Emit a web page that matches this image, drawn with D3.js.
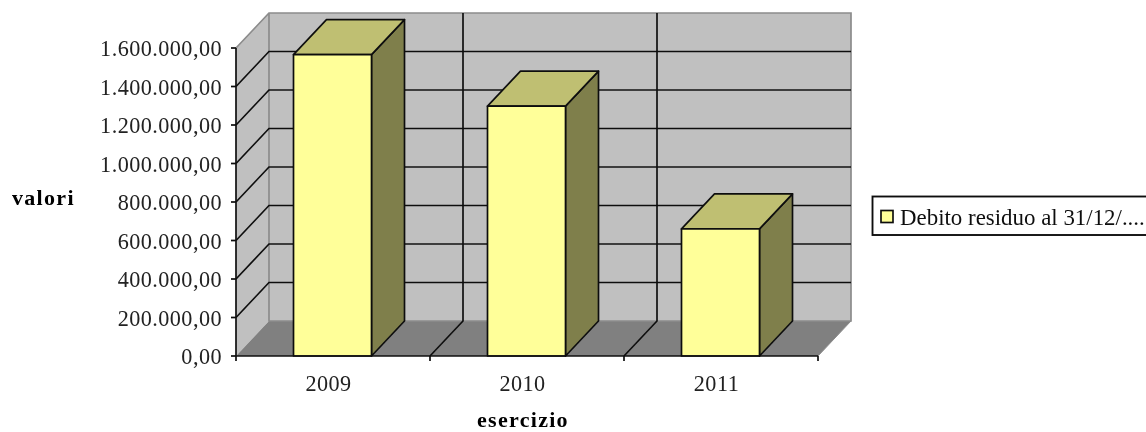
<!DOCTYPE html>
<html>
<head>
<meta charset="utf-8">
<script src="https://cdn.jsdelivr.net/npm/d3@7"></script>
<style>
  html, body { margin: 0; padding: 0; background: #fff; overflow: hidden; }
  svg { display: block; }
  .tick text { font-family: "Liberation Serif", serif; font-size: 22.2px; fill: #222; letter-spacing: 0.45px; }
  .title { font-family: "Liberation Serif", serif; font-weight: bold; font-size: 22px; fill: #000; letter-spacing: 1.3px; }
  .legend-text { font-family: "Liberation Serif", serif; font-size: 22.9px; fill: #111; }
</style>
</head>
<body>
<div id="chart"></div>
<script>
const years = ["2009", "2010", "2011"];
const debito = [1566000, 1298000, 660000];
const yTicks = [0, 200000, 400000, 600000, 800000, 1000000, 1200000, 1400000, 1600000];
const seriesName = "Debito residuo al 31/12/....";

const width = 1146, height = 432;
const plotLeft = 236, plotRight = 818, plotTop = 48, plotBottom = 356;
const depthX = 33, depthY = 35;

const svg = d3.select("#chart").append("svg")
    .attr("width", width)
    .attr("height", height);

// the original is a scaled up bitmap, so everything is slightly soft
svg.append("defs").append("filter")
    .attr("id", "soft")
    .append("feGaussianBlur")
    .attr("stdDeviation", 0.5);

const g = svg.append("g").attr("filter", "url(#soft)");

const x = d3.scaleBand().domain(years).range([plotLeft, plotRight]).paddingInner(0).paddingOuter(0);
const y = d3.scaleLinear().domain([0, 1600000]).range([plotBottom, plotTop]);

const itFormat = d3.formatLocale({decimal: ",", thousands: ".", grouping: [3], currency: ["€", ""]}).format(",.2f");

const poly = (pts) => pts.map(p => p.join(",")).join(" ");

// walls and floor
g.append("polygon")
    .attr("points", poly([[plotLeft, plotTop], [plotLeft + depthX, plotTop - depthY], [plotLeft + depthX, plotBottom - depthY], [plotLeft, plotBottom]]))
    .attr("fill", "#c0c0c0");
g.append("rect")
    .attr("x", plotLeft + depthX)
    .attr("y", plotTop - depthY)
    .attr("width", plotRight - plotLeft)
    .attr("height", plotBottom - plotTop)
    .attr("fill", "#c0c0c0");
g.append("polygon")
    .attr("points", poly([[plotLeft, plotBottom], [plotLeft + depthX, plotBottom - depthY], [plotRight + depthX, plotBottom - depthY], [plotRight, plotBottom]]))
    .attr("fill", "#808080");

// wall edges
g.append("path")
    .attr("d", `M${plotLeft},${plotTop}L${plotLeft + depthX},${plotTop - depthY}H${plotRight + depthX}V${plotBottom - depthY}H${plotLeft + depthX}V${plotTop - depthY}`)
    .attr("fill", "none")
    .attr("stroke", "#8c8c8c")
    .attr("stroke-width", 1.7);

// horizontal gridlines, back wall + side wall
yTicks.slice(1).forEach(t => {
    if (t < 1600000) {
        g.append("path")
            .attr("d", `M${plotLeft},${y(t)}L${plotLeft + depthX},${y(t) - depthY}H${plotRight + depthX}`)
            .attr("fill", "none")
            .attr("stroke", "#111")
            .attr("stroke-width", 1.7);
    }
});

// vertical gridlines between categories, carried across the floor
years.slice(1).forEach(d => {
    g.append("path")
        .attr("d", `M${x(d) + depthX},${plotTop - depthY}V${plotBottom - depthY}L${x(d)},${plotBottom}`)
        .attr("fill", "none")
        .attr("stroke", "#111")
        .attr("stroke-width", 1.7);
});
g.append("line")
    .attr("x1", plotRight).attr("y1", plotBottom)
    .attr("x2", plotRight + depthX).attr("y2", plotBottom - depthY)
    .attr("stroke", "#8c8c8c");

// 3d bars
const barPad = (x.bandwidth() - 78) / 2 - 0.5;
const bars = g.selectAll(".bar")
    .data(years.map((d, i) => ({year: d, value: debito[i]})))
    .join("g")
    .attr("class", "bar")
    .attr("stroke", "#111")
    .attr("stroke-width", 1.7)
    .attr("stroke-linejoin", "round");

const bx = (d) => x(d.year) + barPad;

bars.append("polygon")
    .attr("fill", "#7f7f4c")
    .attr("points", d => poly([
        [bx(d) + 78, y(d.value)],
        [bx(d) + 78 + depthX, y(d.value) - depthY],
        [bx(d) + 78 + depthX, plotBottom - depthY],
        [bx(d) + 78, plotBottom]]));
bars.append("polygon")
    .attr("fill", "#bfbf72")
    .attr("points", d => poly([
        [bx(d), y(d.value)],
        [bx(d) + depthX, y(d.value) - depthY],
        [bx(d) + 78 + depthX, y(d.value) - depthY],
        [bx(d) + 78, y(d.value)]]));
bars.append("rect")
    .attr("fill", "#ffff99")
    .attr("x", bx)
    .attr("y", d => y(d.value))
    .attr("width", 78)
    .attr("height", d => plotBottom - y(d.value));

// axes
const yAxis = g.append("g")
    .attr("transform", `translate(${plotLeft},0)`)
    .call(d3.axisLeft(y).tickValues(yTicks).tickFormat(itFormat).tickSize(5).tickSizeOuter(0).offset(0));
const xAxis = g.append("g")
    .attr("transform", `translate(0,${plotBottom})`)
    .call(d3.axisBottom(x).tickSize(0).offset(0));

xAxis.selectAll(".tick text").attr("dy", "0").attr("y", 35).attr("x", -4.5);
yAxis.selectAll(".tick text").attr("x", -14).attr("dy", "0.36em");
g.selectAll(".domain").attr("stroke", "#111").attr("stroke-width", 1.7);
g.selectAll(".tick line").attr("stroke", "#111").attr("stroke-width", 1.7);

// x axis ticks sit on the category edges, not the band centres
g.selectAll(".xtick")
    .data(years.map(d => x(d)).concat([plotRight]))
    .join("line")
    .attr("class", "xtick")
    .attr("x1", d => d).attr("x2", d => d)
    .attr("y1", plotBottom).attr("y2", plotBottom + 5)
    .attr("stroke", "#111")
    .attr("stroke-width", 1.7);

// axis titles
g.append("text").attr("class", "title").attr("x", 12).attr("y", 205).text("valori");
g.append("text").attr("class", "title").attr("x", 477).attr("y", 427).text("esercizio");

// legend
g.append("rect")
    .attr("x", 872.5).attr("y", 196.5)
    .attr("width", 290).attr("height", 38.5)
    .attr("fill", "#fff")
    .attr("stroke", "#111")
    .attr("stroke-width", 1.9);
g.append("rect")
    .attr("x", 881).attr("y", 210.5)
    .attr("width", 12).attr("height", 12)
    .attr("fill", "#ffff99")
    .attr("stroke", "#111")
    .attr("stroke-width", 1.7);
g.append("text").attr("class", "legend-text").attr("x", 900).attr("y", 224.5).text(seriesName);
</script>
</body>
</html>
